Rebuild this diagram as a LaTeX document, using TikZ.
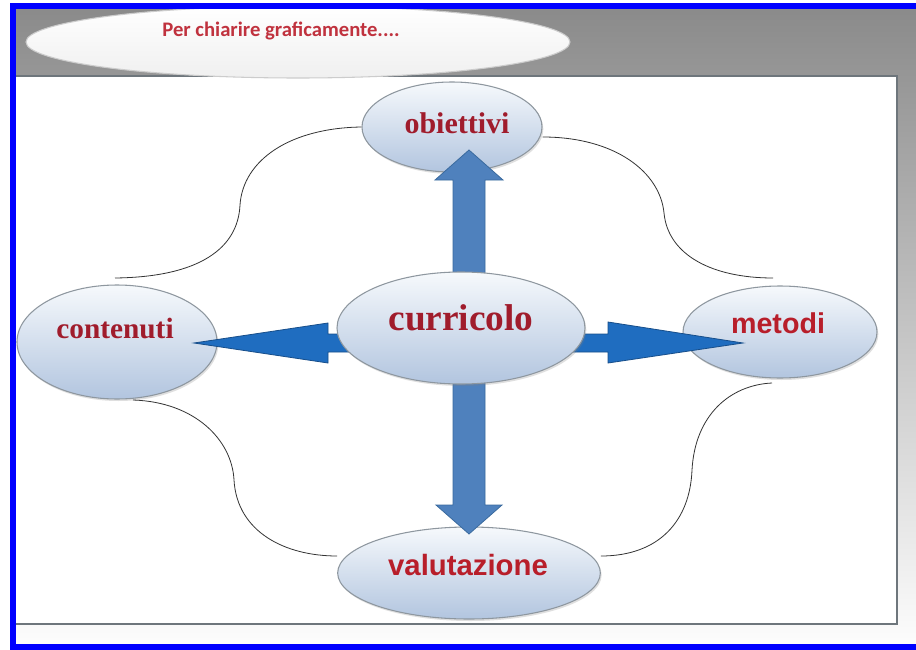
\documentclass[tikz,border=0pt]{standalone}
\usepackage{fontspec}
\setmainfont{Liberation Serif}
\newfontfamily\sansfnt{Liberation Sans}
\newfontfamily\califnt{Carlito}
\usetikzlibrary{shapes.geometric,shadows}
\definecolor{frameblue}{HTML}{0000FF}
\definecolor{elltop}{HTML}{F6F9FC}
\definecolor{ellbot}{HTML}{B2C5DF}
\definecolor{elledge}{HTML}{8E979F}
\definecolor{txtred}{HTML}{A01C2C}
\definecolor{txtredb}{HTML}{B81E2A}
\definecolor{txtredc}{HTML}{C0323E}
\definecolor{arrblue}{HTML}{4F81BD}
\definecolor{arredge}{HTML}{3A6A9E}
\definecolor{harrblue}{HTML}{1F6DC0}
\definecolor{harredge}{HTML}{174E8A}
\definecolor{bgtop}{HTML}{8A8A8A}
\definecolor{bgbot}{HTML}{FDFDFD}
\definecolor{paneledge}{HTML}{6E767C}
\begin{document}
\begin{tikzpicture}[x=0.75pt,y=-0.75pt,
  bubble/.style={ellipse, inner sep=0pt, top color=elltop, bottom color=ellbot,
    draw=elledge, line width=0.8pt,
    drop shadow={opacity=0.25, shadow xshift=1pt, shadow yshift=-1.5pt}},
  topbubble/.style={ellipse, inner sep=0pt, top color=white, bottom color=white!88!gray,
    draw=white!60!gray, line width=0.8pt},
  serlabel/.style={font=\bfseries\fontsize{#1}{#1}\selectfont, text=txtred, inner sep=0pt},
  sanlabel/.style={font=\sansfnt\bfseries\fontsize{#1}{#1}\selectfont, text=txtredb, inner sep=0pt},
  link/.style={draw=black!80, line width=0.6pt},
  varrow/.style={fill=arrblue, draw=arredge, line width=0.6pt},
  harrow/.style={fill=harrblue, draw=harredge, line width=0.6pt}
]
\useasboundingbox (0,0) rectangle (916,649);
% background
\fill[white] (0,0) rectangle (916,649);
\shade[top color=bgtop, bottom color=bgbot] (12,6) rectangle (916,646);
% panel
\draw[draw=paneledge, line width=1.5pt, fill=white] (15,76) rectangle (897,624);
% title bubble
\node[topbubble, minimum width=408pt, minimum height=54pt] (title) at (298,42) {};
\node[font=\califnt\bfseries\fontsize{15.5}{15.5}\selectfont, text=txtredc, inner sep=0pt] (titlet) at (281,31) {Per chiarire graficamente....};
% outer bubbles
\node[bubble, minimum width=135pt, minimum height=67.5pt] (obi) at (452,127) {};
\node[bubble, minimum width=150pt, minimum height=85.5pt] (con) at (117,342) {};
\node[bubble, minimum width=145.5pt, minimum height=69pt] (met) at (780,332) {};
\node[bubble, minimum width=197pt, minimum height=69pt] (val) at (469,573) {};
% free curve ends
\coordinate (tlend) at (115,278);
\coordinate (trend) at (773,278);
\coordinate (blend) at (133,400);
\coordinate (brend) at (772,383);
% curves
\draw[link] (tlend) .. controls (200,277) and (238,248) .. (240,205)
  .. controls (243,160) and (290,128) .. (obi.west);
\draw[link] (obi.east) ++(0,10) .. controls (615,137) and (660,172) .. (664,213)
  .. controls (668,255) and (712,278) .. (trend);
\draw[link] (blend) .. controls (195,402) and (232,440) .. (234,480)
  .. controls (237,532) and (285,556) .. (val.west |- 0,556);
\draw[link] (val.east |- 0,556) .. controls (660,556) and (690,520) .. (692,470)
  .. controls (695,415) and (730,385) .. (brend);
% arrows
\draw[varrow] (453,290) -- (453,180) -- (435,180) -- (469,150) -- (503,180) -- (485,180) -- (485,290) -- cycle;
\draw[varrow] (453,360) -- (453,505) -- (436,505) -- (469,534) -- (502,505) -- (485,505) -- (485,360) -- cycle;
\draw[harrow] (360,334) -- (328,334) -- (328,323) -- (194,343) -- (328,363) -- (328,352) -- (360,352) -- cycle;
\draw[harrow] (560,334) -- (608,334) -- (608,322) -- (743,343) -- (608,363) -- (608,352) -- (560,352) -- cycle;
% centre bubble
\node[bubble, minimum width=186pt, minimum height=84pt] (cur) at (461,328) {};
% labels
\node[serlabel=22.5] (obit) at (457,123) {obiettivi};
\node[serlabel=28] (curt) at (461,318) {curricolo};
\node[serlabel=22] (cont) at (115,328) {contenuti};
\node[sanlabel=21.5] (mett) at (778,323) {metodi};
\node[sanlabel=22] (valt) at (468,565) {valutazione};
% blue frame
\draw[frameblue, line width=4.5pt] (916,6) -- (13,6) -- (13,646.5) -- (916,646.5);
\end{tikzpicture}
\end{document}
